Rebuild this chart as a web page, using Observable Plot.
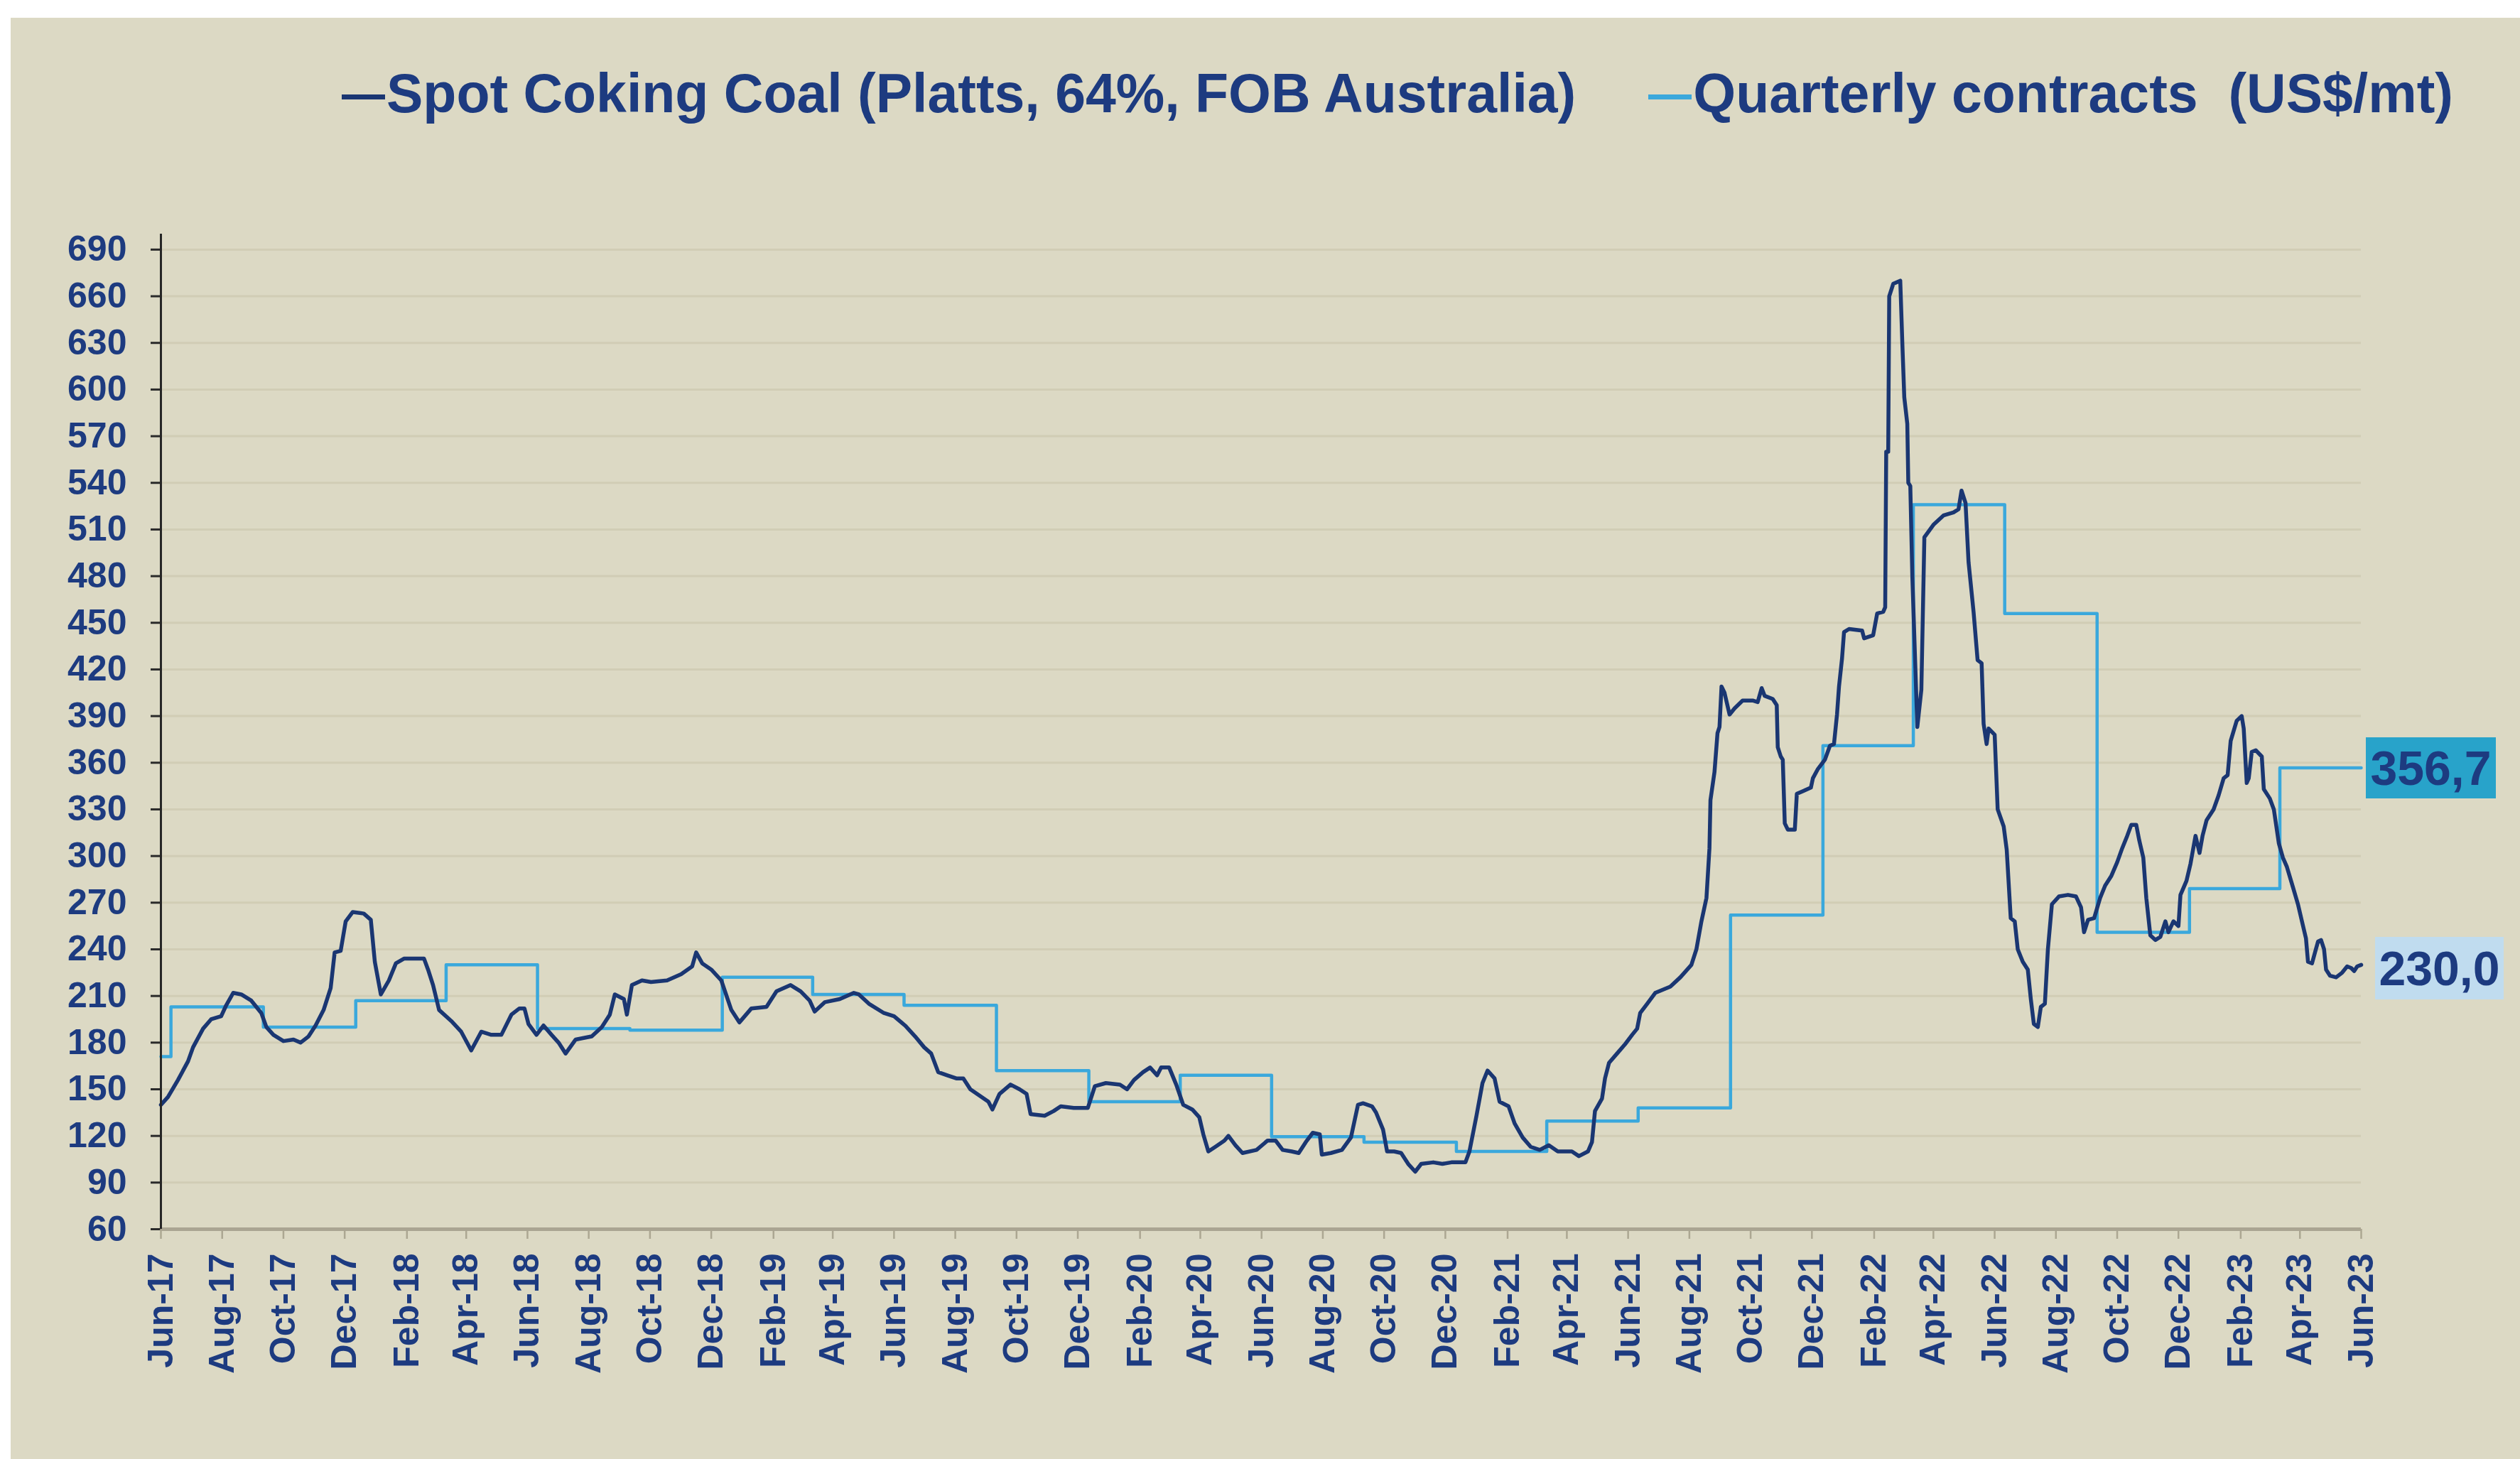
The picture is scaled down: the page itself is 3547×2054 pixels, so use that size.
<!DOCTYPE html>
<html>
<head>
<meta charset="utf-8">
<script src="https://cdn.jsdelivr.net/npm/d3@7"></script>
<script src="https://cdn.jsdelivr.net/npm/@observablehq/plot@0.6"></script>
<style>
  html, body { margin: 0; padding: 0; width: 3547px; height: 2054px; overflow: hidden; background: #ffffff;
    font-family: "Liberation Sans", Arial, sans-serif; }
  #panel { position: absolute; left: 15px; top: 25px; width: 3532px; height: 2029px; background: #dcd9c4; }
  #chart { position: absolute; left: 0; top: 0; }
  #legend { position: absolute; left: 481px; top: 93px; font-size: 77px; line-height: 77px; font-weight: bold;
    color: #1d3b80; white-space: pre; }
  #legend .dash { display: inline-block; width: 61px; height: 7px; vertical-align: 18px; margin-right: 2px; }
  .box { position: absolute; display: flex; align-items: center; justify-content: center; font-weight: bold;
    font-size: 68px; color: #1d3b80; }
  [aria-label="x-axis tick"] { stroke: #aca792; stroke-width: 2.5px; }
  [aria-label="y-axis tick"] { stroke: #2a2a2a; stroke-width: 3px; }
  [aria-label="x-axis tick label"], [aria-label="y-axis tick label"] { fill: #1d3b80; }
</style>
</head>
<body>
<div id="panel"></div>
<div id="legend"></div>
<div id="chart"></div>
<script>
// ---------- DATA ----------
const seriesNames = ["Spot Coking Coal (Platts, 64%, FOB Australia)", "Quarterly contracts  (US$/mt)"];

const spotDates = [
"2017-06-21","2017-06-28","2017-07-08","2017-07-18","2017-07-23","2017-08-02","2017-08-10","2017-08-20","2017-08-25","2017-09-01",
"2017-09-09","2017-09-19","2017-09-29","2017-10-04","2017-10-11","2017-10-21","2017-10-31","2017-11-07","2017-11-15","2017-11-22",
"2017-11-30","2017-12-07","2017-12-11","2017-12-17","2017-12-22","2017-12-29","2018-01-09","2018-01-16","2018-01-20","2018-01-26",
"2018-02-03","2018-02-10","2018-02-18","2018-03-10","2018-03-14","2018-03-19","2018-03-25","2018-04-06","2018-04-16","2018-04-26",
"2018-05-06","2018-05-16","2018-05-26","2018-06-05","2018-06-13","2018-06-18","2018-06-22","2018-06-30","2018-07-07","2018-07-15",
"2018-07-22","2018-07-29","2018-08-08","2018-08-24","2018-09-03","2018-09-11","2018-09-16","2018-09-25","2018-09-28","2018-10-03",
"2018-10-13","2018-10-22","2018-11-07","2018-11-21","2018-12-02","2018-12-06","2018-12-12","2018-12-21","2018-12-31","2019-01-10",
"2019-01-18","2019-01-30","2019-02-14","2019-02-24","2019-03-10","2019-03-20","2019-03-29","2019-04-03","2019-04-13","2019-04-28",
"2019-05-12","2019-05-17","2019-05-27","2019-06-11","2019-06-21","2019-07-02","2019-07-12","2019-07-21","2019-07-28","2019-08-04",
"2019-08-13","2019-08-22","2019-08-29","2019-09-05","2019-09-14","2019-09-23","2019-09-27","2019-10-04","2019-10-15","2019-10-24",
"2019-10-31","2019-11-04","2019-11-18","2019-11-27","2019-12-04","2019-12-17","2019-12-31","2020-01-07","2020-01-18","2020-02-01",
"2020-02-08","2020-02-15","2020-02-24","2020-03-02","2020-03-09","2020-03-13","2020-03-21","2020-03-28","2020-04-04","2020-04-13",
"2020-04-20","2020-04-24","2020-04-29","2020-05-06","2020-05-15","2020-05-19","2020-05-26","2020-06-02","2020-06-16","2020-06-27",
"2020-07-05","2020-07-12","2020-07-21","2020-07-28","2020-08-04","2020-08-11","2020-08-18","2020-08-20","2020-08-29","2020-09-09",
"2020-09-18","2020-09-25","2020-09-30","2020-10-09","2020-10-13","2020-10-20","2020-10-24","2020-10-31","2020-11-07","2020-11-14",
"2020-11-21","2020-11-27","2020-12-09","2020-12-18","2020-12-27","2021-01-10","2021-01-14","2021-01-21","2021-01-27","2021-02-01",
"2021-02-08","2021-02-13","2021-02-22","2021-02-28","2021-03-08","2021-03-16","2021-03-25","2021-04-03","2021-04-12","2021-04-26",
"2021-05-03","2021-05-12","2021-05-16","2021-05-19","2021-05-26","2021-05-29","2021-06-02","2021-06-10","2021-06-18","2021-06-25",
"2021-06-30","2021-07-03","2021-07-10","2021-07-18","2021-08-02","2021-08-12","2021-08-23","2021-08-28","2021-09-02","2021-09-07",
"2021-09-10","2021-09-11","2021-09-15","2021-09-18","2021-09-20","2021-09-22","2021-09-25","2021-09-30","2021-10-05","2021-10-13",
"2021-10-23","2021-10-28","2021-11-01","2021-11-04","2021-11-12","2021-11-16","2021-11-17","2021-11-20","2021-11-22","2021-11-24",
"2021-11-27","2021-12-04","2021-12-06","2021-12-13","2021-12-20","2021-12-22","2021-12-27","2022-01-03","2022-01-08","2022-01-12",
"2022-01-15","2022-01-17","2022-01-20","2022-01-22","2022-01-27","2022-02-09","2022-02-11","2022-02-20","2022-02-24","2022-03-02",
"2022-03-04","2022-03-05","2022-03-07","2022-03-08","2022-03-12","2022-03-19","2022-03-21","2022-03-23","2022-03-26","2022-03-27",
"2022-03-29","2022-03-31","2022-04-05","2022-04-09","2022-04-12","2022-04-21","2022-05-01","2022-05-11","2022-05-16","2022-05-19",
"2022-05-23","2022-05-26","2022-05-31","2022-06-04","2022-06-08","2022-06-10","2022-06-13","2022-06-15","2022-06-21","2022-06-24",
"2022-06-30","2022-07-03","2022-07-07","2022-07-11","2022-07-14","2022-07-19","2022-07-24","2022-07-27","2022-07-30","2022-08-03",
"2022-08-06","2022-08-10","2022-08-13","2022-08-17","2022-08-24","2022-09-02","2022-09-10","2022-09-15","2022-09-18","2022-09-22",
"2022-09-28","2022-10-04","2022-10-09","2022-10-15","2022-10-21","2022-10-26","2022-10-31","2022-11-04","2022-11-09","2022-11-12",
"2022-11-16","2022-11-19","2022-11-23","2022-11-28","2022-12-03","2022-12-08","2022-12-11","2022-12-16","2022-12-21","2022-12-23",
"2022-12-29","2023-01-02","2023-01-07","2023-01-11","2023-01-14","2023-01-18","2023-01-25","2023-01-30","2023-02-04","2023-02-08",
"2023-02-11","2023-02-17","2023-02-22","2023-02-24","2023-02-27","2023-03-01","2023-03-04","2023-03-08","2023-03-14","2023-03-16",
"2023-03-22","2023-03-26","2023-03-31","2023-04-04","2023-04-08","2023-04-14","2023-04-19","2023-04-23","2023-04-27","2023-04-29",
"2023-05-03","2023-05-06","2023-05-09","2023-05-12","2023-05-15","2023-05-17","2023-05-21","2023-05-27","2023-06-02","2023-06-07",
"2023-06-11","2023-06-14","2023-06-17","2023-06-21"
];

const spotValues = [
140,145,156,168,177,189,195,197,204,212,
211,207,199,190,185,181,182,180,184,191,
201,215,238,239,258,264,263,259,232,211,
220,231,234,234,227,217,201,194,187,175,
187,185,185,198,202,202,192,185,191,185,
180,173,182,184,190,198,211,208,198,217,
220,219,220,224,229,238,231,227,220,201,
193,202,203,213,217,213,207,200,206,208,
212,211,205,199,197,191,184,177,173,161,
159,157,157,150,146,142,137,147,153,150,
147,134,133,136,139,138,138,152,154,153,
150,156,161,164,159,164,164,153,140,137,
132,121,110,113,117,120,114,109,111,117,
117,111,110,109,116,122,121,108,109,111,
119,140,141,139,135,124,110,110,109,102,
97,102,103,102,103,103,110,133,154,162,
157,142,139,128,119,113,111,114,110,110,
107,110,116,136,144,157,167,173,179,185,
189,199,205,212,216,222,230,240,258,273,
305,336,354,379,383,409,405,391,395,400,
400,399,408,403,401,397,370,364,362,321,
317,317,340,342,344,350,356,362,371,372,
391,409,427,444,446,445,440,442,456,457,
460,560,560,660,668,670,631,595,578,540,
538,480,383,407,505,513,519,521,523,535,
527,489,457,426,424,385,372,382,378,330,
319,304,260,258,240,232,227,208,192,190,
203,205,240,269,274,275,274,267,251,259,
260,273,281,287,296,305,313,320,320,310,
299,273,249,246,248,258,251,258,255,275,
284,295,313,302,313,323,330,339,350,352,
374,387,390,382,347,350,367,368,364,343,
337,330,308,299,293,280,269,258,247,232,
231,238,245,246,240,227,223,222,225,229,
228,226,229,230
];

const quarterDates = [
"2017-06-21","2017-07-01","2017-10-01","2018-01-01","2018-04-01","2018-07-01","2018-10-01","2019-01-01","2019-04-01","2019-07-01",
"2019-10-01","2020-01-01","2020-04-01","2020-07-01","2020-10-01","2021-01-01","2021-04-01","2021-07-01","2021-10-01","2022-01-01",
"2022-04-01","2022-07-01","2022-10-01","2023-01-01","2023-04-01","2023-06-21"
];
const quarterValues = [
171,203,190,207,230,189,188,222,211,204,
162,142,159,119.5,116,110,129.5,138,262,371,
526,456,251,279,356.7,356.7
];

const xTickDates = [
"2017-06-21","2017-08-21","2017-10-21","2017-12-21","2018-02-21","2018-04-21","2018-06-21","2018-08-21","2018-10-21","2018-12-21",
"2019-02-21","2019-04-21","2019-06-21","2019-08-21","2019-10-21","2019-12-21","2020-02-21","2020-04-21","2020-06-21","2020-08-21",
"2020-10-21","2020-12-21","2021-02-21","2021-04-21","2021-06-21","2021-08-21","2021-10-21","2021-12-21","2022-02-21","2022-04-21",
"2022-06-21","2022-08-21","2022-10-21","2022-12-21","2023-02-21","2023-04-21","2023-06-21"
];
const yTicks = [60,90,120,150,180,210,240,270,300,330,360,390,420,450,480,510,540,570,600,630,660,690];

// ---------- COLOURS ----------
const navy = "#1a3672";
const textNavy = "#1d3b80";
const lightBlue = "#3aa8dc";

// ---------- BUILD ----------
const parse = d3.utcParse("%Y-%m-%d");
const spot = spotDates.map((d, i) => ({date: parse(d), value: spotValues[i]}));
const quarterly = quarterDates.map((d, i) => ({date: parse(d), value: quarterValues[i]}));
const xTicks = xTickDates.map(parse);
const xDomain = [xTicks[0], xTicks[xTicks.length - 1]];

const plot = Plot.plot({
  width: 3547,
  height: 2054,
  marginLeft: 226,
  marginRight: 224,
  marginTop: 329,
  marginBottom: 324,
  style: {background: "transparent", fontSize: "50px", fontFamily: "'Liberation Sans', Arial, sans-serif",
          fontWeight: "bold", color: textNavy, overflow: "visible"},
  x: {type: "utc", domain: xDomain},
  y: {domain: [60, 700]},
  marks: [
    Plot.gridY(yTicks.slice(1), {stroke: "#c9c5ac", strokeOpacity: 0.6, strokeWidth: 3}),
    Plot.axisY({ticks: yTicks, tickSize: 14, tickPadding: 34, label: null, fontSize: 50, fontWeight: "bold"}),
    Plot.axisX({ticks: xTicks, tickFormat: d3.utcFormat("%b-%y"), tickSize: 14, tickPadding: 20, tickRotate: -90,
                label: null, fontSize: 50, fontWeight: "bold"}),
    Plot.line(quarterly, {x: "date", y: "value", curve: "step-after", stroke: lightBlue, strokeWidth: 4.5}),
    Plot.line(spot, {x: "date", y: "value", stroke: navy, strokeWidth: 5.5, strokeLinejoin: "round"}),
    Plot.ruleY([60], {stroke: "#aaa592", strokeWidth: 5}),
    Plot.ruleX([xDomain[0]], {stroke: "#262626", strokeWidth: 3})
  ]
});
document.getElementById("chart").appendChild(plot);

// ---------- LEGEND ----------
const legend = document.getElementById("legend");
legend.innerHTML =
  `<span class="dash" style="background:${navy}"></span>${seriesNames[0]}` +
  `<span style="display:inline-block;width:102px"></span>` +
  `<span class="dash" style="background:${lightBlue}"></span>${seriesNames[1]}`;

// ---------- END-VALUE BOXES (placed with the plot's own scales) ----------
const xs = plot.scale("x"), ys = plot.scale("y");
const fmt = v => d3.format(".1f")(v).replace(".", ",");
const xEnd = xs.apply(xDomain[1]);
const lastQ = quarterValues[quarterValues.length - 1];
const lastS = spotValues[spotValues.length - 1];
function addBox(value, left, w, h, dy, bg) {
  const b = document.createElement("div");
  b.className = "box";
  b.textContent = fmt(value);
  b.style.left = left + "px";
  b.style.top = (ys.apply(value) - h / 2 + dy) + "px";
  b.style.width = w + "px";
  b.style.height = h + "px";
  b.style.background = bg;
  document.body.appendChild(b);
}
addBox(lastQ, xEnd + 7, 183, 86, 0, "#28a3ca");
addBox(lastS, xEnd + 20, 181, 88, 5, "#c0dcef");
</script>
</body>
</html>
